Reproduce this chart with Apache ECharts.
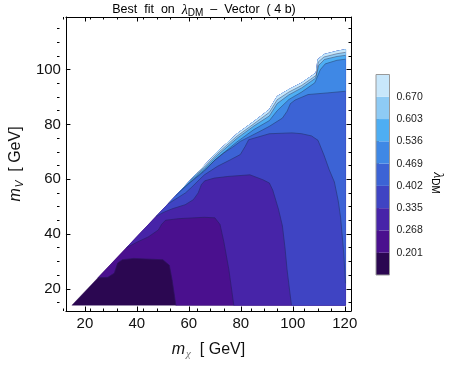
<!DOCTYPE html>
<html>
<head>
<meta charset="utf-8">
<script src="https://cdn.jsdelivr.net/npm/echarts@6/dist/echarts.min.js"></script>
<style>
  html, body { margin: 0; padding: 0; background: #fff; }
  #chart { width: 454px; height: 366px; }
</style>
</head>
<body>
<div id="chart"></div>
<script>
// colour bar boundaries of lambda_DM
const levels = [0.201, 0.268, 0.335, 0.402, 0.469, 0.536, 0.603, 0.670];
const barRange = [0.134, 0.737];
// one colour per band, lowest band first
const bandColors = ["#2b0751", "#4a108e", "#4724a8", "#3f44c3", "#3c63d5", "#3f88e5", "#4eaef3", "#8ecbf5", "#c8e7fb"];

const xTicks = [20, 40, 60, 80, 100, 120];
const xMinorTicks = [15, 25, 30, 35, 45, 50, 55, 65, 70, 75, 85, 90, 95, 105, 110, 115];
const yTicks = [20, 40, 60, 80, 100];
const yMinorTicks = [15, 25, 30, 35, 45, 50, 55, 65, 70, 75, 85, 90, 95, 105, 110, 115];

// scanned region (m_chi, m_V): lower-left corner then the upper edge
const edge = [[15, 14], [66, 65], [71, 70], [78.5, 76.5], [85, 81], [91, 85.4], [94, 90.2], [98.5, 92.7],
  [103.4, 95.1], [109, 98.8], [109.7, 103.7], [112, 105.5], [117, 106.7], [120.3, 107.3]];
const xEnd = 120.3;
const yStart = 14;

// contour lines, from the upper edge down to the bottom / right side
const c201 = [[25, 24], [28.8, 24.2], [31.3, 25.7], [32.6, 29.4], [34.4, 30.6], [38.8, 31.1], [50, 30.6],
  [52.5, 28.6], [53.6, 23], [55, 14]];
const c268 = [[36, 35], [40, 37], [44.5, 39], [48.3, 41.5], [49.5, 43.5], [51, 45], [56, 45.6], [66, 46.1],
  [70, 45.9], [72, 43.5], [73.5, 37], [75.4, 27], [77.3, 14]];
const c335 = [[47.4, 46.4], [50, 47.8], [53.6, 49.2], [58.6, 50.7], [61.7, 52.5], [63.6, 55], [64.8, 58],
  [66.1, 59.4], [69.8, 60.4], [75, 61], [83.5, 61.6], [88.5, 59.8], [91, 58.6], [92.3, 56], [94.5, 49],
  [96, 43], [97, 35], [97.8, 27], [98.7, 20], [99.5, 14]];
const c402 = [[52, 51], [58.7, 55], [61, 57], [64, 59.8], [66, 61.6], [71, 64.7], [76, 67.1], [79.8, 69],
  [81.7, 72], [83, 74.4], [91, 76.6], [99.7, 76.9], [103.4, 76.6], [107.2, 75.8], [109.7, 74.2], [112, 68.8],
  [114, 63.5], [116, 59], [117.5, 52], [118.4, 46], [119.6, 33], [120.3, 22]];
const c469 = [[55, 54], [60, 58.4], [66, 63], [69.8, 66.8], [73.5, 69.6], [77.3, 72], [79.8, 73.8],
  [83.5, 75.6], [87, 77.3], [91, 79.3], [96, 82.3], [97.8, 84.8], [99.1, 87.6], [100.9, 88.9],
  [105.9, 90.9], [113.4, 91.5], [120.3, 92.1]];
const c536 = [[57.5, 56.5], [63, 61], [66, 63.4], [71, 67.8], [78.5, 73.6], [85, 78.1], [91, 81.4], [94, 85],
  [98.5, 89.1], [103.4, 91.8], [108.5, 95.2], [110.6, 100], [112.5, 102.1], [117, 103.4], [120.3, 103.8]];
const c603 = [[60.5, 59.5], [66, 64], [71, 68.7], [78.5, 74.9], [85, 79.4], [91, 83.1], [94, 87.6], [98.5, 90.8],
  [103.4, 93.3], [108.8, 96.9], [110, 101.6], [112.2, 103.7], [117, 104.8], [120.3, 105.2]];
const c670 = [[63, 62], [66, 64.5], [71, 69.4], [78.5, 75.7], [85, 80.2], [91, 84.4], [94, 89], [98.5, 91.8],
  [103.4, 94.2], [109, 97.9], [109.8, 102.8], [112, 104.6], [117, 105.8], [120.3, 106.3]];
const contours = [c201, c268, c335, c402, c469, c536, c603, c670];

const font = "'Liberation Sans', Arial, sans-serif";

// region where lambda is above a level: the contour, then the domain boundary back to its start
function upperRegion(curve) {
  const start = curve[0];
  const last = curve[curve.length - 1];
  const pts = curve.slice();
  if (last[1] <= yStart + 0.01) pts.push([xEnd, yStart]);
  for (let i = edge.length - 1; i >= 0; i--) {
    if (edge[i][0] > start[0]) pts.push(edge[i]);
  }
  return pts;
}
const domain = [edge[0], [xEnd, yStart]].concat(edge.slice(1).reverse());
const regions = [domain].concat(contours.map(upperRegion));

function frameAxis(gridIndex, position, ticks, len, labels, extent) {
  return {
    type: "value",
    gridIndex: gridIndex,
    position: position,
    min: extent[0],
    max: extent[1],
    axisLine: { show: gridIndex === 0, onZero: false, lineStyle: { color: "#000", width: 1 } },
    axisTick: { show: true, inside: true, length: len, customValues: ticks, lineStyle: { color: "#000", width: 1 } },
    axisLabel: { show: labels, customValues: ticks, fontSize: 15, color: "#111", fontFamily: font, margin: 5 },
    splitLine: { show: false }
  };
}

const xExtent = [12.7, 122.4];
const yExtent = [11.9, 119.2];

const xMain = frameAxis(0, "bottom", xTicks, 4.5, true, xExtent);
xMain.name = "{m|m}{s|χ}{g|  [ GeV]}";
xMain.nameLocation = "middle";
xMain.nameGap = 29;
xMain.nameTextStyle = {
  rich: {
    m: { fontSize: 16, fontStyle: "italic", fontFamily: font, color: "#111" },
    s: { fontSize: 11, fontStyle: "italic", fontFamily: "'Liberation Serif', serif", color: "#777", padding: [9, 0, 0, 1] },
    g: { fontSize: 16, fontFamily: font, color: "#111" }
  }
};
const yMain = frameAxis(0, "left", yTicks, 4.5, true, yExtent);
yMain.name = "{m|m}{s|V}{g|  [ GeV]}";
yMain.nameLocation = "middle";
yMain.nameRotate = 90;
yMain.nameGap = 36;
yMain.nameTextStyle = {
  rich: {
    m: { fontSize: 16, fontStyle: "italic", fontFamily: font, color: "#111" },
    s: { fontSize: 10, fontStyle: "italic", fontFamily: font, color: "#111", padding: [8, 0, 0, 1] },
    g: { fontSize: 16, fontFamily: font, color: "#111" }
  }
};

const option = {
  animation: false,
  backgroundColor: "#fff",
  grid: [
    { left: 57, top: 17, width: 294, height: 294 },
    { left: 57, top: 17, width: 294, height: 294 },
    { left: 376, top: 74.5, width: 13.5, height: 200.5 }
  ],
  xAxis: [
    xMain,
    frameAxis(0, "top", xTicks, 4.5, false, xExtent),
    frameAxis(1, "bottom", xMinorTicks, 2.5, false, xExtent),
    frameAxis(1, "top", xMinorTicks, 2.5, false, xExtent),
    { type: "value", gridIndex: 2, min: 0, max: 1, show: false }
  ],
  yAxis: [
    yMain,
    frameAxis(0, "right", yTicks, 4.5, false, yExtent),
    frameAxis(1, "left", yMinorTicks, 2.5, false, yExtent),
    frameAxis(1, "right", yMinorTicks, 2.5, false, yExtent),
    {
      type: "value", gridIndex: 2, position: "right", min: barRange[0], max: barRange[1],
      axisLine: { show: false },
      axisTick: { show: true, inside: false, length: 3, customValues: levels, lineStyle: { color: "#666" } },
      axisLabel: {
        customValues: levels, fontSize: 10.5, color: "#222", fontFamily: font, margin: 7,
        formatter: function (v) { return v.toFixed(3); }
      },
      splitLine: { show: false }
    }
  ],
  graphic: [
    {
      type: "text", x: 204, y: 2,
      style: {
        text: "{a|Best  fit  on  }{l|λ}{s|DM}{a|  –  Vector  ( 4 b)}",
        textAlign: "center",
        rich: {
          a: { fontSize: 12.5, fontFamily: font, color: "#111" },
          l: { fontSize: 14, fontFamily: "'Liberation Serif', serif", fontStyle: "italic", color: "#b06a24" },
          s: { fontSize: 10, fontFamily: font, color: "#b06a24", padding: [6, 0, 0, 0] }
        }
      }
    },
    {
      type: "text", x: 438, y: 183, rotation: -Math.PI / 2,
      style: {
        text: "{l|λ}{s|DM}",
        textAlign: "center",
        textVerticalAlign: "middle",
        rich: {
          l: { fontSize: 14, fontFamily: "'Liberation Serif', serif", fontStyle: "italic", color: "#222" },
          s: { fontSize: 10, fontFamily: font, color: "#222", padding: [6, 0, 0, 0] }
        }
      }
    }
  ],
  series: [
    {
      type: "custom",
      xAxisIndex: 0,
      yAxisIndex: 0,
      silent: true,
      clip: true,
      data: regions.map(function (r, i) { return [i, 0]; }),
      renderItem: function (params, api) {
        const pts = regions[params.dataIndex].map(function (p) { return api.coord(p); });
        const c = bandColors[params.dataIndex];
        return { type: "polygon", shape: { points: pts }, style: { fill: c, stroke: c, lineWidth: 0.4 } };
      }
    },
    {
      type: "custom",
      xAxisIndex: 0,
      yAxisIndex: 0,
      silent: true,
      clip: true,
      data: contours.map(function (c, i) { return [i, 0]; }),
      renderItem: function (params, api) {
        const pts = contours[params.dataIndex].map(function (p) { return api.coord(p); });
        return { type: "polyline", shape: { points: pts }, style: { fill: "none", stroke: "rgba(25,25,60,0.5)", lineWidth: 0.8 } };
      }
    },
    {
      // colour bar
      type: "custom",
      xAxisIndex: 4,
      yAxisIndex: 4,
      silent: true,
      data: bandColors.map(function (c, i) { return [i, 0]; }),
      renderItem: function (params, api) {
        const i = params.dataIndex;
        const lo = i === 0 ? barRange[0] : levels[i - 1];
        const hi = i === levels.length ? barRange[1] : levels[i];
        const p0 = api.coord([0, hi]);
        const p1 = api.coord([1, lo]);
        return { type: "rect", shape: { x: p0[0], y: p0[1], width: p1[0] - p0[0], height: p1[1] - p0[1] }, style: { fill: bandColors[i] } };
      }
    },
    {
      type: "custom",
      xAxisIndex: 4,
      yAxisIndex: 4,
      silent: true,
      data: [[0, 0]],
      renderItem: function (params, api) {
        const p0 = api.coord([0, barRange[1]]);
        const p1 = api.coord([1, barRange[0]]);
        return { type: "rect", shape: { x: p0[0], y: p0[1], width: p1[0] - p0[0], height: p1[1] - p0[1] }, style: { fill: "none", stroke: "#999", lineWidth: 1 } };
      }
    }
  ]
};

const chart = echarts.init(document.getElementById("chart"));
chart.setOption(option);
</script>
</body>
</html>
